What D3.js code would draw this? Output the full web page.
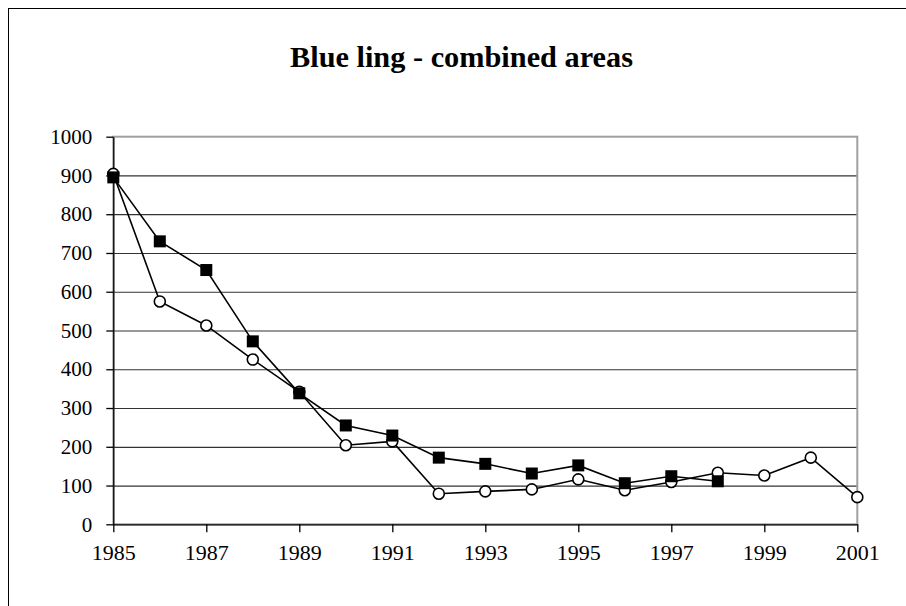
<!DOCTYPE html>
<html>
<head>
<meta charset="utf-8">
<script src="https://cdn.jsdelivr.net/npm/d3@7"></script>
<style>
  body { margin: 0; background: #fff; }
  svg { display: block; font-family: "Liberation Serif", "Times New Roman", serif; }
</style>
</head>
<body>
<svg id="svg" width="906" height="606"></svg>
<script>
// values
var years = [1985,1986,1987,1988,1989,1990,1991,1992,1993,1994,1995,1996,1997,1998,1999,2000,2001];
var squareSeries = [895,730,656,472,338,255,229,172,156,131,152,106,124,111];
var circleSeries = [904,575,513,425,342,204,214,79,85,90,116,88,109,133,126,172,70];
var yTicks = [0,100,200,300,400,500,600,700,800,900,1000];
var xTicks = [1985,1987,1989,1991,1993,1995,1997,1999,2001];
var title = "Blue ling - combined areas";

var svg = d3.select("#svg");

var plot = {left: 113.3, right: 857.3, top: 136.7, bottom: 524.3};

// outer chart border (runs off the page right and bottom)
svg.append("rect")
  .attr("x", 8.5).attr("y", 8.5)
  .attr("width", 1000).attr("height", 1000)
  .attr("fill", "none").attr("stroke", "#000").attr("stroke-width", 1);

var xScale = d3.scaleLinear().domain([1985, 2001]).range([plot.left, plot.right]);
var yScale = d3.scaleLinear().domain([0, 1000]).range([plot.bottom, plot.top]);

// title
svg.append("text")
  .attr("x", 461.5).attr("y", 66.7)
  .attr("text-anchor", "middle")
  .attr("font-size", 29).attr("font-weight", "bold")
  .attr("textLength", 343).attr("lengthAdjust", "spacingAndGlyphs")
  .text(title);

// grid lines
svg.append("g")
  .attr("transform", "translate(" + plot.left + ",0)")
  .call(d3.axisLeft(yScale).tickValues(yTicks.slice(1, -1))
    .tickSize(-(plot.right - plot.left)).tickFormat(""))
  .call(function(g) {
    g.select(".domain").remove();
    g.selectAll("line").attr("stroke", "#333").attr("stroke-width", 1.2);
  });

// plot area border (gray)
svg.append("rect")
  .attr("x", plot.left).attr("y", plot.top)
  .attr("width", plot.right - plot.left).attr("height", plot.bottom - plot.top)
  .attr("fill", "none").attr("stroke", "#a0a0a0").attr("stroke-width", 2);

// y axis
var yAxis = svg.append("g")
  .attr("transform", "translate(" + plot.left + ",0)")
  .call(d3.axisLeft(yScale).tickValues(yTicks).tickFormat(d3.format("d"))
    .tickSize(7).tickPadding(14).tickSizeOuter(0));
yAxis.style("font-family", "'Liberation Serif', serif").style("font-size", "21px");
yAxis.select(".domain").attr("stroke-width", 1.3);
yAxis.selectAll("text").style("fill", "#000");
yAxis.selectAll("line").attr("stroke-width", 1.3);

// x axis
var xAxis = svg.append("g")
  .attr("transform", "translate(0," + plot.bottom + ")")
  .call(d3.axisBottom(xScale).tickValues(xTicks).tickFormat(d3.format("d"))
    .tickSize(8).tickPadding(12).tickSizeOuter(0));
xAxis.style("font-family", "'Liberation Serif', serif").style("font-size", "22px");
xAxis.select(".domain").attr("stroke-width", 1.3);
xAxis.selectAll("text").style("fill", "#000");
xAxis.selectAll("line").attr("stroke-width", 1.3);

var lineGen = d3.line()
  .x(function(d) { return xScale(d.year); })
  .y(function(d) { return yScale(d.value); });

var squareData = squareSeries.map(function(v, i) { return {year: years[i], value: v}; });
var circleData = circleSeries.map(function(v, i) { return {year: years[i], value: v}; });

svg.append("path").datum(circleData)
  .attr("d", lineGen).attr("fill", "none").attr("stroke", "#000").attr("stroke-width", 1.6);
svg.append("path").datum(squareData)
  .attr("d", lineGen).attr("fill", "none").attr("stroke", "#000").attr("stroke-width", 1.6);

svg.append("g").selectAll("circle").data(circleData).enter()
  .append("circle")
  .attr("cx", function(d) { return xScale(d.year); })
  .attr("cy", function(d) { return yScale(d.value); })
  .attr("r", 5.5)
  .attr("fill", "#fff").attr("stroke", "#000").attr("stroke-width", 1.6);

svg.append("g").selectAll("rect").data(squareData).enter()
  .append("rect")
  .attr("x", function(d) { return xScale(d.year) - 6; })
  .attr("y", function(d) { return yScale(d.value) - 6; })
  .attr("width", 12).attr("height", 12)
  .attr("fill", "#000");
</script>
</body>
</html>
